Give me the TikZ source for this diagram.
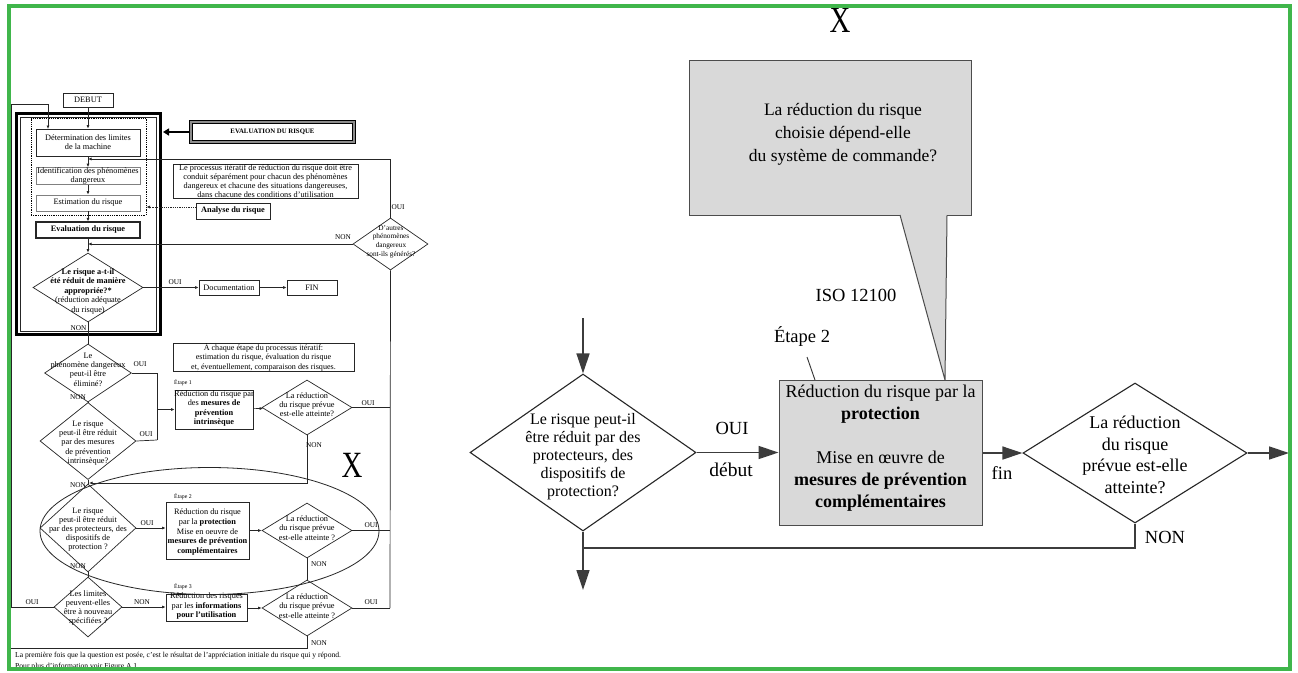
\documentclass[tikz,border=0pt]{standalone}
\usepackage{fontspec}
\setmainfont{Liberation Serif}
\usetikzlibrary{shapes.geometric,arrows.meta,calc}
\definecolor{frameg}{RGB}{64,182,75}
\definecolor{boxgray}{RGB}{217,217,217}
\definecolor{linegray}{RGB}{60,60,60}
\begin{document}
\begin{tikzpicture}[x=1pt,y=-1pt,
  lf/.style={font=\fontsize{8.3}{9.3}\selectfont},
  lbox/.style={draw=black!85, line width=0.7pt, inner sep=0pt, align=center, lf},
  ldia/.style={draw=black!85, line width=0.7pt, diamond, inner sep=0pt},
  ltxt/.style={align=center, inner sep=0pt, lf},
  lline/.style={draw=black!85, line width=0.7pt},
  larr/.style={lline, -{Latex[length=3.5pt,width=3pt]}},
  llab/.style={font=\fontsize{7.3}{8}\selectfont, inner sep=0pt},
  etap/.style={font=\fontsize{5.8}{6}\selectfont, inner sep=0pt},
  rline/.style={draw=linegray, line width=1.4pt},
  rarr/.style={rline, -{Triangle[length=20pt,width=13pt]}},
  rdia/.style={draw=black!85, line width=1.1pt, diamond, inner sep=0pt},
  rt18/.style={font=\fontsize{18}{21.7}\selectfont, align=center, inner sep=0pt},
  rt16/.style={font=\fontsize{16}{18}\selectfont, align=center, inner sep=0pt},
  rlab/.style={font=\fontsize{18.5}{20}\selectfont, inner sep=0pt},
  bigx/.style={font=\fontsize{37}{37}\selectfont, inner sep=0pt}
]
\useasboundingbox (0,0) rectangle (1298,672);
\fill[white] (0,0) rectangle (1298,672);

%================ LEFT FLOWCHART =================
\node[draw=black, line width=3pt, minimum width=143.5pt, minimum height=221pt, inner sep=0pt] (frame) at (88.25,224) {};
\node[draw=black!85, line width=0.7pt, minimum width=136.5pt, minimum height=214pt, inner sep=0pt] (framein) at (88.25,224) {};
\node[draw=black, line width=0.8pt, dash pattern=on 0.9pt off 0.9pt, minimum width=115pt, minimum height=97pt, inner sep=0pt] (dotbox) at (88.5,166.5) {};

\node[lbox, minimum width=50pt, minimum height=14pt] (debut) at (88,100) {DEBUT};
\node[lbox, minimum width=104pt, minimum height=27pt] (det) at (88,142.5) {Détermination des limites\\de la machine};
\node[lbox, draw=black!50, minimum width=104pt, minimum height=16pt] (ident) at (88,176) {Identification des phénomènes\\dangereux};
\node[lbox, draw=black!50, minimum width=104pt, minimum height=16pt] (estim) at (88,203) {Estimation du risque};
\node[lbox, line width=1.2pt, minimum width=104pt, minimum height=16pt] (evalr) at (88,230) {\textbf{Evaluation du risque}};

\node[draw=black, line width=1.2pt, double=black!45, double distance=1.4pt, minimum width=163pt, minimum height=20pt, inner sep=0pt, font=\fontsize{6.8}{7}\selectfont\bfseries] (evalbox) at (272.5,132) {EVALUATION DU RISQUE};
\coordinate (fhit) at (163,132);
\draw[line width=2.6pt, -{Triangle[length=6pt,width=7pt]}] (evalbox.west) -- (fhit);

\node[lbox, minimum width=185pt, minimum height=34pt, font=\fontsize{8.3}{8.9}\selectfont] (proc) at (265.5,181) {Le processus itératif de réduction du risque doit être\\conduit séparément pour chacun des phénomènes\\dangereux et chacune des situations dangereuses,\\dans chacune des conditions d'utilisation};
\node[lbox, minimum width=74pt, minimum height=16pt] (analyse) at (233,211) {\textbf{Analyse du risque}};
\coordinate (dhit) at (146.5,207);
\draw[draw=black!85, line width=0.8pt, dash pattern=on 0.9pt off 0.9pt, -{Latex[length=3.5pt,width=3pt]}] (analyse.west |- dhit) -- (dhit);

\node[ldia, minimum width=75pt, minimum height=52pt] (daut) at (390.5,244) {};
\node[ltxt, font=\fontsize{7.3}{8.7}\selectfont] (dautt) at (391,241.5) {D'autres\\phénomènes\\dangereux\\sont-ils générés?};

\node[ldia, minimum width=110pt, minimum height=69pt] (dapp) at (88,287.5) {};
\node[ltxt, font=\fontsize{8.3}{9.5}\selectfont] (dappt) at (88,291) {\textbf{Le risque a-t-il}\\\textbf{été réduit de manière}\\\textbf{appropriée?*}\\(réduction adéquate\\du risque)};
\node[lbox, minimum width=60pt, minimum height=15pt] (doc) at (229,287.5) {Documentation};
\node[lbox, minimum width=50pt, minimum height=15pt] (fin) at (312,287.5) {FIN};

\node[lbox, minimum width=181pt, minimum height=26pt, font=\fontsize{8.1}{9.6}\selectfont] (chaque) at (263.5,357) {À chaque étape du processus itératif:\\estimation du risque, évaluation du risque\\et, éventuellement, comparaison des risques.};

\node[ldia, minimum width=87pt, minimum height=58pt] (delim) at (88,373) {};
\node[ltxt] (delimt) at (88,369.5) {Le\\phénomène dangereux\\peut-il être\\éliminé?};
\node[ldia, minimum width=96pt, minimum height=77pt] (dintr) at (88,441) {};
\node[ltxt] (dintrt) at (88,443) {Le risque\\peut-il être réduit\\par des mesures\\de prévention\\intrinsèque?};

\node[etap] (et1) at (183,383) {Étape 1};
\node[lbox, minimum width=78pt, minimum height=39pt] (e1box) at (214,409.5) {};
\node[ltxt] (e1t) at (214,408.5) {Réduction du risque par\\des \textbf{mesures de}\\\textbf{prévention}\\\textbf{intrinsèque}};
\node[ldia, minimum width=90pt, minimum height=55pt] (de1) at (307,407.5) {};
\node[ltxt] (de1t) at (307,404.5) {La réduction\\du risque prévue\\est-elle atteinte?};

\node[ldia, minimum width=96pt, minimum height=88pt] (dprot) at (88,528) {};
\node[ltxt, font=\fontsize{8.3}{9}\selectfont] (dprott) at (88,530) {Le risque\\peut-il être réduit\\par des protecteurs, des\\dispositifs de\\protection ?};
\node[etap] (et2) at (183,497) {Étape 2};
\node[lbox, minimum width=83pt, minimum height=57pt] (e2box) at (207.5,530.5) {};
\node[ltxt, font=\fontsize{8.3}{9.8}\selectfont] (e2t) at (207.5,532) {Réduction du risque\\par la \textbf{protection}\\Mise en oeuvre de\\\textbf{mesures de prévention}\\\textbf{complémentaires}};
\node[ldia, minimum width=90pt, minimum height=55pt] (de2) at (307,530.5) {};
\node[ltxt] (de2t) at (307,528) {La réduction\\du risque prévue\\est-elle atteinte ?};

\node[ldia, minimum width=68pt, minimum height=60pt] (dlim) at (88,607) {};
\node[ltxt] (dlimt) at (88,608) {Les limites\\peuvent-elles\\être à nouveau\\spécifiées ?};
\node[etap] (et3) at (183,587) {Étape 3};
\node[lbox, minimum width=81pt, minimum height=27pt] (e3box) at (206.5,607.5) {};
\node[ltxt] (e3t) at (206.5,606) {Réduction des risques\\par les \textbf{informations}\\\textbf{pour l'utilisation}};
\node[ldia, minimum width=90pt, minimum height=56pt] (de3) at (307,608) {};
\node[ltxt] (de3t) at (307,606) {La réduction\\du risque prévue\\est-elle atteinte ?};

\node[bigx] (xl) at (352,465) {\scalebox{0.78}[1]{X}};
\node[draw=black!85, line width=0.8pt, ellipse, minimum width=339pt, minimum height=127pt, inner sep=0pt] (ell) at (209.5,531) {};

% left connectors
\draw[larr] (debut) -- (det);
\draw[larr] (det) -- (ident);
\draw[larr] (ident) -- (estim);
\draw[larr] (estim) -- (evalr);
\draw[larr] (evalr) -- (dapp);
\draw[lline] (dapp) -- (delim);
\draw[lline] (delim) -- (dintr);
\draw[lline] (dintr) -- (dprot);
\draw[lline] (dprot) -- (dlim);
\draw[larr] (dapp.east) -- (doc.west);
\draw[larr] (doc) -- (fin);

\coordinate (loopA) at (88,159);
\draw[larr] (daut.north) |- (loopA);
\coordinate (loopB) at (88,244);
\draw[larr] (daut.west) -- (loopB);
\coordinate (rv) at (390,608);
\draw[lline] (daut.south) -- (rv);

\coordinate (j1) at (157,440);
\draw[lline] (delim.east) -| (j1);
\draw[lline] (dintr.east) -- (j1);
\draw[larr] (j1 |- e1box.west) -- (e1box.west);
\draw[larr] (e1box) -- (de1);
\draw[lline] (de1.east) -- (rv |- de1.east);
\coordinate (j2) at (89,483);
\draw[larr] (de1.south) |- (j2);

\draw[larr] (dprot.east) -- (dprot.east -| e2box.west);
\draw[larr] (e2box.east |- de2.west) -- (de2.west);
\draw[lline] (de2.east) -- (rv |- de2.east);
\draw[lline] (de2) -- (de3);

\draw[larr] (dlim.east) -- (dlim.east -| e3box.west);
\draw[larr] (e3box.east |- de3.west) -- (de3.west);
\draw[lline] (de3.east) -- (rv |- de3.east);
\coordinate (nb) at (10,648);
\draw[lline] (de3.south) |- (nb);

\coordinate (lp1) at (11,104);
\coordinate (lp2) at (48,129);
\draw[larr] (dlim.west) -| (lp1) -| (lp2);

% left labels
\node[llab] (l1) at (398,207) {OUI};
\node[llab] (l2) at (343,237) {NON};
\node[llab] (l3) at (78.5,328) {NON};
\node[llab] (l4) at (175,282) {OUI};
\node[llab] (l5) at (140,364) {OUI};
\node[llab] (l6) at (78,397) {NON};
\node[llab] (l7) at (146,434) {OUI};
\node[llab] (l8) at (368,403) {OUI};
\node[llab] (l9) at (314,445) {NON};
\node[llab] (l10) at (78,485) {NON};
\node[llab] (l11) at (147,523) {OUI};
\node[llab] (l12) at (371,525) {OUI};
\node[llab] (l13) at (319,564) {NON};
\node[llab] (l14) at (78,566) {NON};
\node[llab] (l15) at (32,602) {OUI};
\node[llab] (l16) at (142,602) {NON};
\node[llab] (l17) at (371,602) {OUI};
\node[llab] (l18) at (319,643) {NON};

\node[anchor=west, inner sep=0pt, font=\fontsize{7.6}{9}\selectfont] (foot1) at (15,656) {La première fois que la question est posée, c'est le résultat de l'appréciation initiale du risque qui y répond.};
\node[anchor=west, inner sep=0pt, font=\fontsize{7.6}{9}\selectfont] (foot2) at (15,667) {Pour plus d'information voir Figure A.1};

%================ RIGHT DETAIL =================
\node[bigx] (xr) at (840,20) {\scalebox{0.78}[1]{X}};

\node[draw=black!70, fill=boxgray, line width=1pt, minimum width=282pt, minimum height=155pt, inner sep=0pt] (cb) at (830,137.5) {};
\coordinate (tl) at (900,215);
\coordinate (tr) at (947,215);
\coordinate (tip) at (945,380);
\fill[boxgray] ([yshift=1pt]tl) -- (tip) -- ([yshift=1pt]tr) -- cycle;
\draw[draw=black!70, line width=1pt] (tl) -- (tip) -- (tr);
\node[font=\fontsize{17.5}{23}\selectfont, align=center, inner sep=0pt] (cbt) at (843,134) {La réduction du risque\\choisie dépend-elle\\du système de commande?};

\node[rlab] (iso) at (856,295) {ISO 12100};
\node[rlab] (et2r) at (802,337) {Étape 2};
\coordinate (e2a) at (807,357);
\coordinate (e2b) at (815,380);
\draw[draw=black!80, line width=0.9pt] (e2a) -- (e2b);

\node[rdia, minimum width=226pt, minimum height=157pt] (q1) at (583,452.5) {};
\node[rt16] (q1t) at (583,457) {Le risque peut-il\\être réduit par des\\protecteurs, des\\dispositifs de\\protection?};

\node[draw=black!70, fill=boxgray, line width=1pt, minimum width=203pt, minimum height=145pt, inner sep=0pt] (pbox) at (880.5,452.5) {};
\node[rt18, font=\fontsize{18}{22}\selectfont] (pboxt) at (880.5,448) {Réduction du risque par la\\\textbf{protection}\\[22pt]Mise en œuvre de\\\textbf{mesures de prévention}\\\textbf{complémentaires}};

\node[rdia, minimum width=224pt, minimum height=140pt] (q2) at (1135,453) {};
\node[rt18] (q2t) at (1135,455) {La réduction\\du risque\\prévue est-elle\\atteinte?};

\coordinate (rin) at (583,318);
\coordinate (rout) at (583,590);
\coordinate (rexit) at (1289,453);
\coordinate (jn) at (583,548);
\draw[rarr] (rin) -- (q1.north);
\draw[rarr] (q1.south) -- (rout);
\draw[rarr] (q1.east) -- (q1.east -| pbox.west);
\draw[rarr] (pbox.east |- q2.west) -- (q2.west);
\draw[rarr] (q2.east) -- (rexit);
\draw[rline] (q2.south) |- (jn);

\node[rlab] (oui) at (732,428) {OUI};
\node[rlab, font=\fontsize{19.5}{20}\selectfont] (debutr) at (731,470) {début};
\node[rlab] (finr) at (1002,473) {fin};
\node[rlab] (non) at (1165,537) {NON};

% green frame
\draw[frameg, line width=4pt] (9,5.5) rectangle (1290,668.5);
\end{tikzpicture}
\end{document}
